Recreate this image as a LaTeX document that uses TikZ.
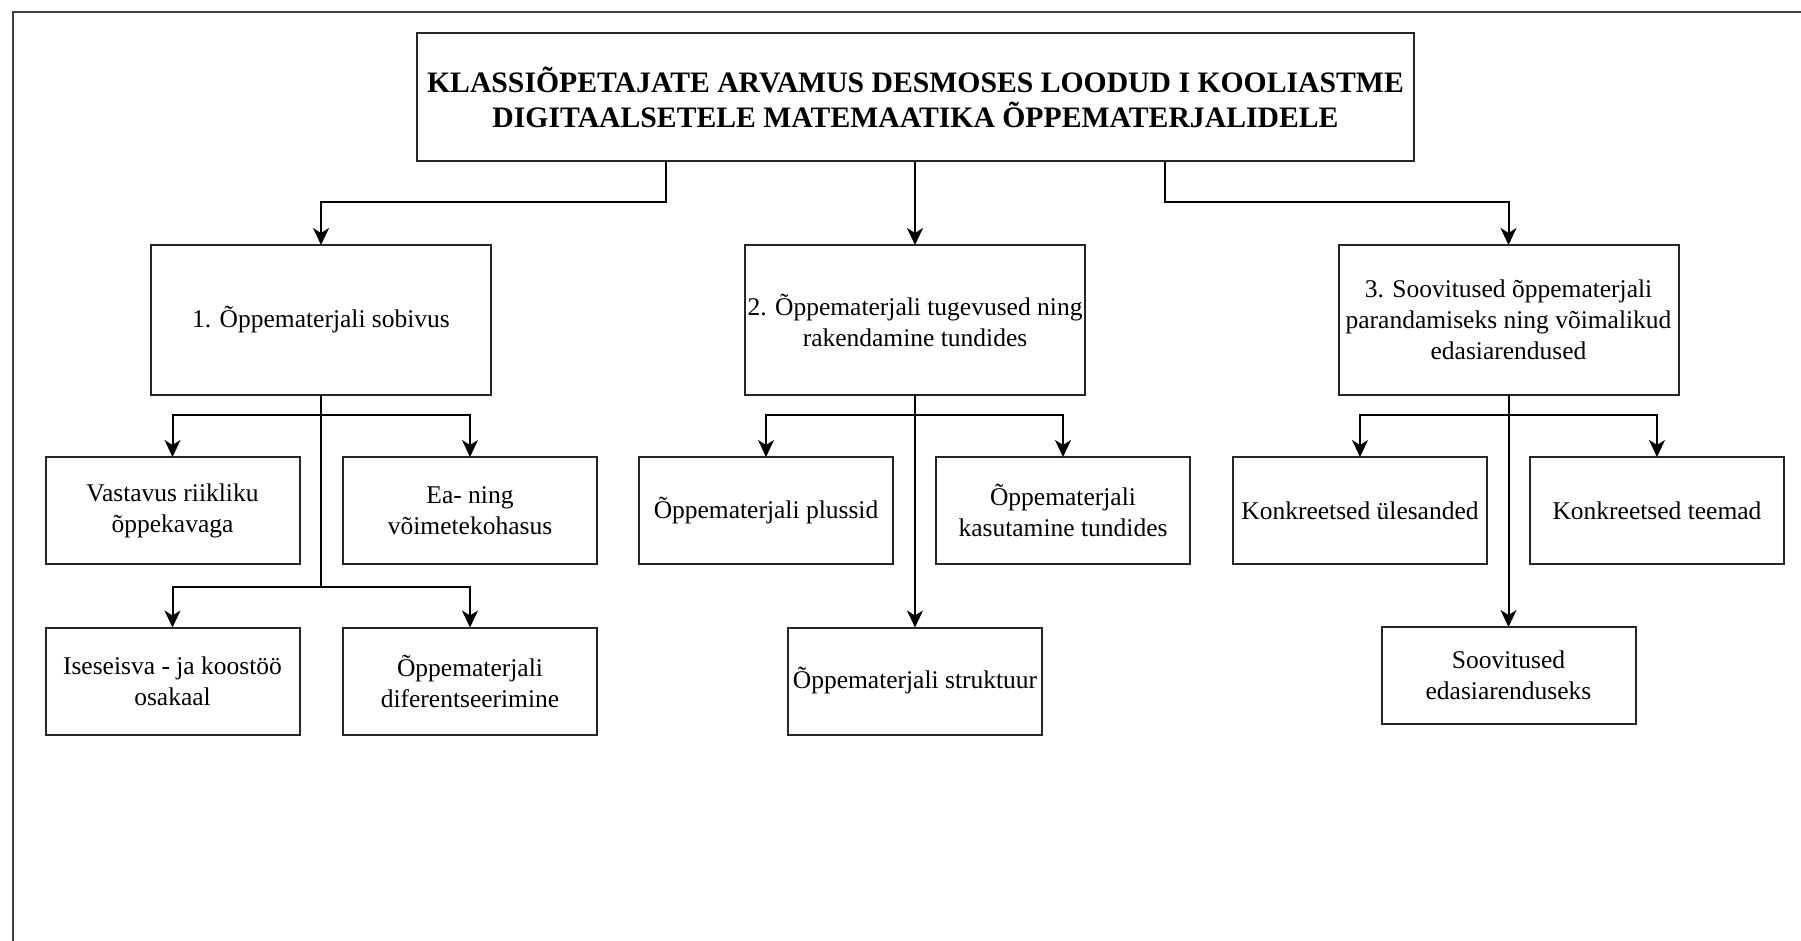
\documentclass[tikz,border=0pt]{standalone}
\usepackage{fontspec}
\setmainfont{Liberation Serif}
\usetikzlibrary{arrows.meta,calc}
\tikzset{
  box/.style={draw=black!85, line width=2pt, fill=white, inner sep=0pt, outer sep=0pt,
    align=center, font=\fontsize{25.5}{31}\selectfont},
  topbox/.style={box, minimum width=340pt, minimum height=150pt},
  leafbox/.style={box, minimum width=254pt, minimum height=107pt},
  titlebox/.style={box, minimum width=997pt, minimum height=128pt,
    font=\fontsize{29.7}{35}\selectfont\bfseries},
  conn/.style={line width=2pt, draw=black},
  arr/.style={conn, -{Stealth[length=17pt,width=16pt,inset=5pt]}},
  frame/.style={line width=2pt, draw=black!75}
}
\begin{document}
\begin{tikzpicture}[x=1pt,y=-1pt]
\useasboundingbox (0,0) rectangle (1801,941);
\draw[frame] (13,960) -- (13,12.5) -- (1820,12.5);

\node[titlebox] (title) at (915.5,97) {KLASSIÕPETAJATE ARVAMUS DESMOSES LOODUD I KOOLIASTME\\DIGITAALSETELE MATEMAATIKA ÕPPEMATERJALIDELE};

\node[topbox] (b1) at (321,320) {1. Õppematerjali sobivus};
\node[topbox] (b2) at (915,320) {2. Õppematerjali tugevused ning\\rakendamine tundides};
\node[topbox] (b3) at (1508.5,320) {3. Soovitused õppematerjali\\parandamiseks ning võimalikud\\edasiarendused};

\node[leafbox] (a) at (172.5,510.5) {Vastavus riikliku\\õppekavaga};
\node[leafbox] (b) at (470,510.5) {Ea- ning\\võimetekohasus};
\node[leafbox] (g) at (172.5,681) {Iseseisva - ja koostöö\\osakaal};
\node[leafbox] (h) at (470,681) {Õppematerjali\\diferentseerimine};

\node[leafbox] (c) at (766,510.5) {Õppematerjali plussid};
\node[leafbox] (d) at (1063,510.5) {Õppematerjali\\kasutamine tundides};
\node[leafbox] (i) at (915,681) {Õppematerjali struktuur};

\node[leafbox] (e) at (1360,510.5) {Konkreetsed ülesanded};
\node[leafbox] (f) at (1657,510.5) {Konkreetsed teemad};
\node[leafbox, minimum height=97pt] (j) at (1508.5,675.5) {Soovitused\\edasiarenduseks};

\coordinate (lev1) at (0,202);
\coordinate (bar1) at (0,414.5);
\coordinate (bar2) at (0,587);
\coordinate (tl) at ($(title.south west)!0.25!(title.south east)$);
\coordinate (tr) at ($(title.south west)!0.75!(title.south east)$);

% title to level 1
\draw[arr] (tl) -- (tl |- lev1) -| (b1.north);
\draw[arr] (title.south -| b2.north) -- (b2.north);
\draw[arr] (tr) -- (tr |- lev1) -| (b3.north);

% branch 1
\draw[conn] (b1.south) -- (b1.south |- bar2);
\draw[arr] (b1.south |- bar1) -| (a.north);
\draw[arr] (b1.south |- bar1) -| (b.north);
\draw[arr] (b1.south |- bar2) -| (g.north);
\draw[arr] (b1.south |- bar2) -| (h.north);

% branch 2
\draw[arr] (b2.south) -- (i.north);
\draw[arr] (b2.south |- bar1) -| (c.north);
\draw[arr] (b2.south |- bar1) -| (d.north);

% branch 3
\draw[arr] (b3.south) -- (j.north);
\draw[arr] (b3.south |- bar1) -| (e.north);
\draw[arr] (b3.south |- bar1) -| (f.north);
\end{tikzpicture}
\end{document}
